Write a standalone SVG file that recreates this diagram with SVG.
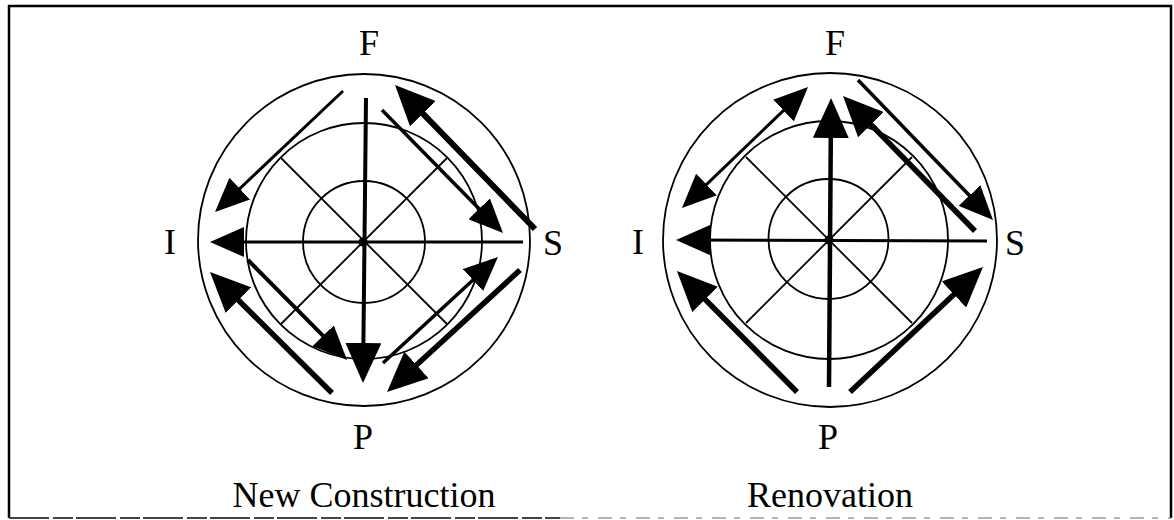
<svg xmlns="http://www.w3.org/2000/svg" width="1174" height="520" viewBox="0 0 1174 520">
<style>
.ring{fill:none;stroke:#000;stroke-width:1.8}
.spoke{stroke:#000;stroke-width:1.8}
.lbl{font-family:"Liberation Serif","Times New Roman",serif;font-size:36px;fill:#000;text-anchor:middle}
.cap{font-family:"Liberation Serif","Times New Roman",serif;font-size:36px;fill:#000;text-anchor:middle}
.a{fill:none;stroke:#000;stroke-linecap:butt}
</style>
<defs>
<marker id="hA" markerUnits="userSpaceOnUse" markerWidth="34" markerHeight="30" refX="24" refY="15" orient="auto-start-reverse"><path d="M0,0 L34,15 L0,30 z" fill="#000"/></marker>
<marker id="hB" markerUnits="userSpaceOnUse" markerWidth="40" markerHeight="36" refX="30" refY="18" orient="auto-start-reverse"><path d="M0,0 L40,18 L0,36 z" fill="#000"/></marker>
</defs>
<rect width="1174" height="520" fill="#fff"/>
<g id="frame">
<polyline points="9,518 9,6 1171,6 1171,518" fill="none" stroke="#000" stroke-width="2.5"/>
<line x1="9" y1="518" x2="560" y2="518" stroke="#444" stroke-width="2" stroke-dasharray="40,4,20,3"/>
<line x1="560" y1="518" x2="1171" y2="518" stroke="#999" stroke-width="1.5" stroke-dasharray="14,8,6,10"/>
</g>
<g id="new-construction">
<circle class="ring" cx="364" cy="240" r="166"/>
<circle class="ring" cx="364" cy="241" r="118"/>
<circle class="ring" cx="364" cy="242" r="61"/>
<line class="spoke" x1="281" y1="158" x2="447" y2="324"/>
<line class="spoke" x1="447" y1="158" x2="281" y2="324"/>
<circle cx="363" cy="242" r="4.5" fill="#000"/>
<text class="lbl" x="369" y="55">F</text>
<text class="lbl" x="170" y="254">I</text>
<text class="lbl" x="553" y="255">S</text>
<text class="lbl" x="363" y="449">P</text>
<text class="cap" x="364" y="507">New Construction</text>
</g>
<g id="renovation">
<circle class="ring" cx="830" cy="240" r="167"/>
<circle class="ring" cx="829" cy="240" r="119"/>
<circle class="ring" cx="828.5" cy="239" r="60"/>
<line class="spoke" x1="746" y1="157" x2="912" y2="323"/>
<line class="spoke" x1="912" y1="157" x2="746" y2="323"/>
<circle cx="829" cy="240" r="4.5" fill="#000"/>
<text class="lbl" x="835" y="55">F</text>
<text class="lbl" x="638" y="254">I</text>
<text class="lbl" x="1015" y="255">S</text>
<text class="lbl" x="828" y="449">P</text>
<text class="cap" x="830" y="507">Renovation</text>
</g>
<g id="connectors">
<path class="a" d="M523,242 L220,242" stroke-width="2.8" marker-end="url(#hA)"/>
<path class="a" d="M366,98 L363.1,373" stroke-width="4" marker-end="url(#hB)"/>
<path class="a" d="M343,91 L222.3,205.1" stroke-width="3" marker-end="url(#hA)"/>
<path class="a" d="M382,110 L496,225.9" stroke-width="3.5" marker-end="url(#hA)"/>
<path class="a" d="M535,229 L402,92.2" stroke-width="6" marker-end="url(#hB)"/>
<path class="a" d="M248,260 L340,352.9" stroke-width="4" marker-end="url(#hA)"/>
<path class="a" d="M332,393 L217.1,279" stroke-width="5.5" marker-end="url(#hB)"/>
<path class="a" d="M383,363 L490.6,263.8" stroke-width="3.5" marker-end="url(#hA)"/>
<path class="a" d="M520,270 L394.4,385.2" stroke-width="5.5" marker-end="url(#hB)"/>
<path class="a" d="M987,241 L686,240" stroke-width="2.8" marker-end="url(#hA)"/>
<path class="a" d="M829,387 L831,108" stroke-width="4.5" marker-end="url(#hB)"/>
<path class="a" d="M689.2,201.1 L800.8,93.9" stroke-width="3" marker-start="url(#hA)" marker-end="url(#hA)"/>
<path class="a" d="M975,231 L850,103.2" stroke-width="5.5" marker-end="url(#hB)"/>
<path class="a" d="M858,80 L986.1,212.8" stroke-width="3.5" marker-end="url(#hA)"/>
<path class="a" d="M797,392 L684,278.1" stroke-width="5.5" marker-end="url(#hB)"/>
<path class="a" d="M850,392 L975.7,273.9" stroke-width="5.5" marker-end="url(#hB)"/>
</g>
</svg>
